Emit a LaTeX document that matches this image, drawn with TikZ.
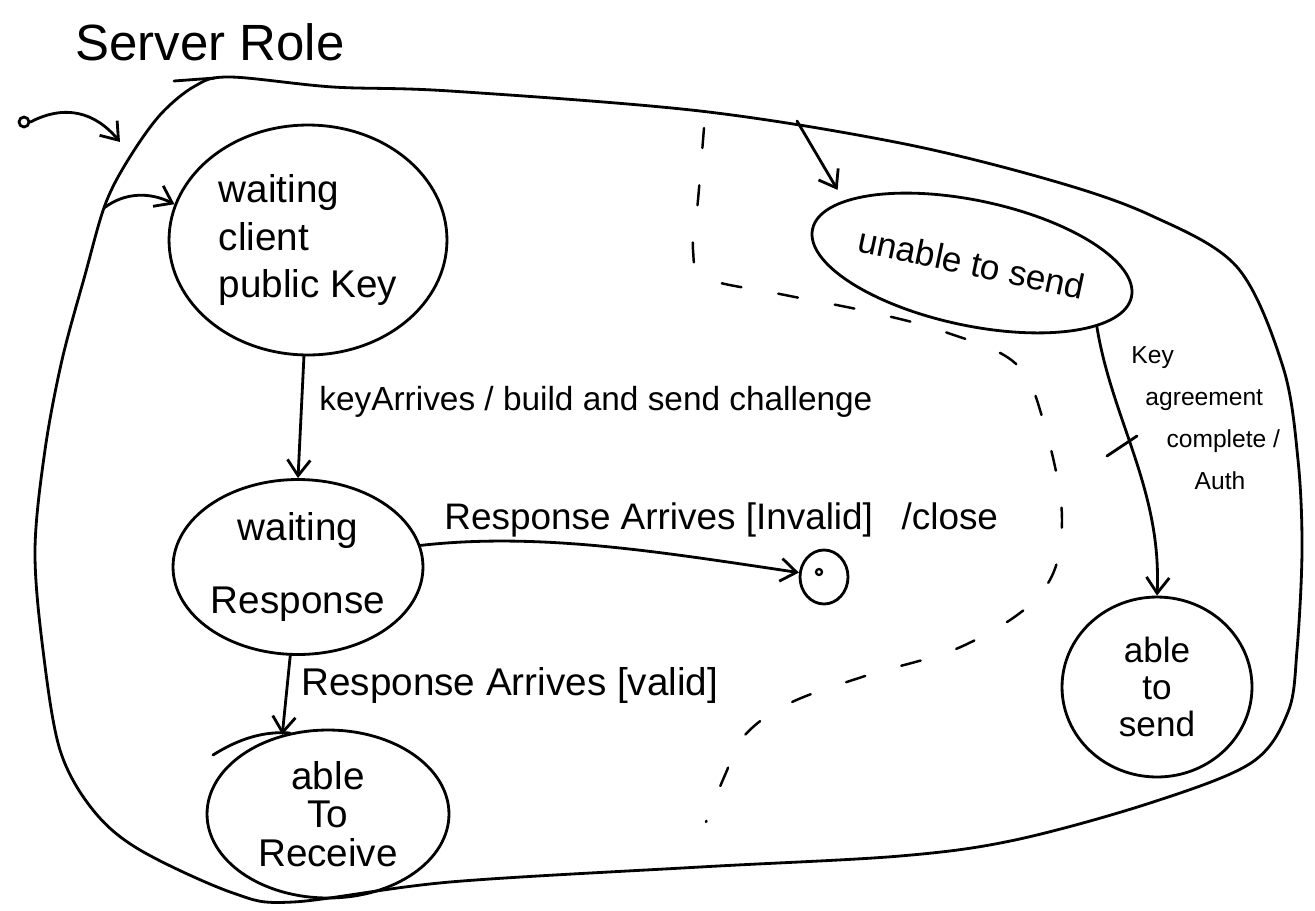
\documentclass[tikz,border=0pt]{standalone}
\usepackage{fontspec}
\setmainfont{Liberation Sans}
\usetikzlibrary{shapes.geometric,arrows.meta}
\begin{document}
\begin{tikzpicture}[x=0.02cm,y=-0.02cm, line width=1.6pt, line cap=round, line join=round,
  state/.style={draw, ellipse, inner sep=0pt, align=center, font=\fontsize{22}{27}\selectfont},
  arr/.style={-{Straight Barb[length=9pt,width=13pt]}},
  lbl/.style={anchor=west, inner sep=0pt, font=\fontsize{20}{24}\selectfont},
  region/.style={line width=1.4pt, dash pattern=on 0.4cm off 0.75cm}]
\useasboundingbox (0,0) rectangle (1315,910);

% title
\node[font=\fontsize{29}{34}\selectfont] (title) at (210,42) {Server Role};

% outer composite state
\draw plot[smooth cycle, tension=0.55] coordinates {
  (230,77) (333,87) (450,91) (700,111) (900,143) (1050,180) (1150,215)
  (1237,267) (1283,367) (1298,460) (1302,550) (1297,650) (1288,712)
  (1251,763) (1150,803) (1015,840) (900,856) (700,867) (450,882)
  (293,902) (233,893) (140,850) (93,810) (60,750) (43,650) (35,550)
  (45,450) (62,360) (85,275) (105,205) (128,160) (160,115) (195,86)};
\draw (174,81) -- (215,78);
\coordinate (b1) at (120,142);
\coordinate (b2) at (104,208);
\coordinate (b3) at (797,121);

% dashed region separator
\draw[region] plot[smooth, tension=0.6] coordinates {
  (704,128) (698,200) (693,250) (706,278) (780,294) (870,312) (945,332)
  (1015,363) (1043,420) (1062,520) (1042,592) (965,645) (865,676)
  (790,703) (745,735) (725,775) (706,822)};

% states
\node[state, minimum width=5.56cm, minimum height=4.6cm, align=left] (wc) at (308,240) {waiting\\client\\public Key};
\node[state, minimum width=5.0cm, minimum height=3.5cm, font=\fontsize{22}{41}\selectfont] (wr) at (298,567) {waiting\\Response};
\node[state, minimum width=4.84cm, minimum height=3.36cm, font=\fontsize{22}{22}\selectfont] (ar) at (328,814) {able\\To\\Receive};
\node[state, minimum width=6.5cm, minimum height=2.5cm, rotate=-12, font=\fontsize{20}{24}\selectfont] (us) at (972,263) {unable to send};
\node[state, minimum width=3.8cm, minimum height=3.6cm, font=\fontsize{20}{21}\selectfont] (as) at (1157,687) {able\\to\\send};
\node[draw, ellipse, minimum width=0.96cm, minimum height=1.08cm, inner sep=0pt] (fin) at (824,577) {};
\draw[line width=1.3pt] ([shift={(-5,-5)}]fin.center) circle (0.06cm);
\node[draw, circle, minimum size=0.2cm, inner sep=0pt] (init) at (24,122) {};

% hand-drawn overlap stroke
\draw (213,755) .. controls (240,738) and (265,731) .. (290,733);

% transitions
\draw[arr] (init.east) .. controls (65,104) and (95,112) .. (b1);
\draw[arr] (b2) .. controls (125,192) and (150,192) .. (wc.165);
\draw[arr, shorten >=7pt] (b3) -- (us.166);
\draw[arr] (wc.268) -- (wr.north);
\draw[arr] (wr.10) .. controls (540,532) and (660,552) .. (fin.170);
\draw[arr] (wr.265) -- (ar.120);
\draw[arr] (us.-15) .. controls (1112,420) and (1162,490) .. (as.north);
\draw (1107,456) -- (1137,436);

% labels
\node[lbl, font=\fontsize{19}{22}\selectfont] (l1) at (318,402) {keyArrives / build and send challenge};
\node[lbl, font=\fontsize{21}{24}\selectfont] (l2) at (443,520) {Response Arrives [Invalid] \hspace{0.5em}/close};
\node[lbl, font=\fontsize{22}{24}\selectfont] (l3) at (300,685) {Response Arrives [valid]};
\node[lbl, anchor=north west, align=left, font=\fontsize{14}{24}\selectfont] (l4) at (1130,345) {Key\\\hspace*{8pt}agreement\\\hspace*{20pt}complete /\\\hspace*{36pt}Auth};
\end{tikzpicture}
\end{document}
